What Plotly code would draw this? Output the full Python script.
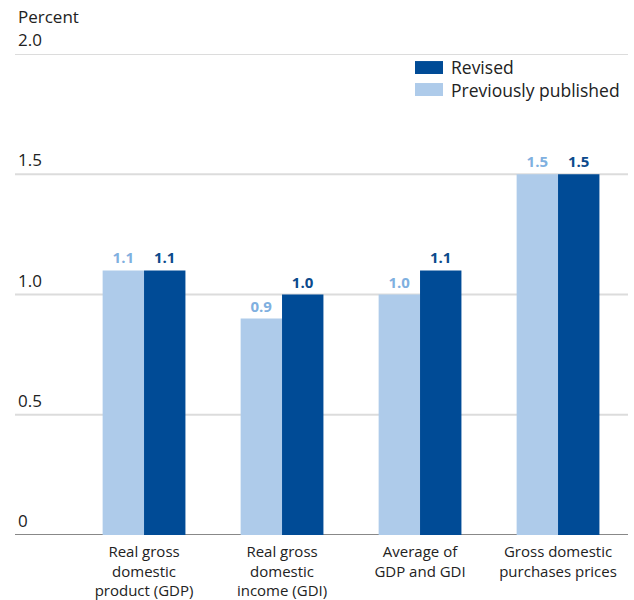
import plotly.graph_objects as go

categories = [
    "Real gross<br>domestic<br>product (GDP)",
    "Real gross<br>domestic<br>income (GDI)",
    "Average of<br>GDP and GDI",
    "Gross domestic<br>purchases prices",
]
previously_published = [1.1, 0.9, 1.0, 1.5]
revised = [1.1, 1.0, 1.1, 1.5]
y_ticks = [0, 0.5, 1.0, 1.5, 2.0]
y_tick_labels = ["0", "0.5", "1.0", "1.5", "2.0"]
legend_labels = ["Revised", "Previously published"]

LIGHT = "#aecbea"
DARK = "#004b96"
LIGHT_TEXT = "#7fb0e0"
DARK_TEXT = "#0b4a8c"
FONT = "Open Sans"

x_idx = list(range(len(categories)))

fig = go.Figure()
fig.add_trace(go.Bar(
    x=x_idx, y=previously_published, name="Previously published",
    marker=dict(color=LIGHT, line=dict(width=0)),
    text=[f"<b>{v:.1f}</b>" for v in previously_published],
    textposition="outside", textfont=dict(color=LIGHT_TEXT, size=15, family=FONT),
    cliponaxis=False,
))
fig.add_trace(go.Bar(
    x=x_idx, y=revised, name="Revised",
    marker=dict(color=DARK, line=dict(width=0)),
    text=[f"<b>{v:.1f}</b>" for v in revised],
    textposition="outside", textfont=dict(color=DARK_TEXT, size=15, family=FONT),
    cliponaxis=False,
))

# horizontal gridlines drawn as shapes so the zero line can be darker
for t, lab in zip(y_ticks, y_tick_labels):
    fig.add_shape(type="line", xref="paper", yref="y", x0=0, x1=1, y0=t, y1=t,
                  line=dict(color="#888888" if t == 0 else "#dcdcdc", width=2),
                  layer="below")
    fig.add_annotation(xref="paper", yref="y", x=0, y=t, xshift=1, yshift=1,
                       text=lab, showarrow=False,
                       xanchor="left", yanchor="bottom",
                       font=dict(size=17, color="#222222", family=FONT))

fig.add_annotation(xref="paper", yref="paper", x=0, y=1, xshift=1, yshift=24,
                   text="Percent", showarrow=False, xanchor="left", yanchor="bottom",
                   font=dict(size=17, color="#222222", family=FONT))

# legend: colour swatches plus one two-line label block
legend_mid = 1.898
legend_step = 0.0457
for i, color in enumerate([DARK, LIGHT]):
    yv = legend_mid + legend_step * (1 - 2 * i)
    fig.add_shape(type="rect", xref="paper", yref="y",
                  x0=(415 - 15) / 613, x1=(443 - 15) / 613,
                  y0=yv - 0.027, y1=yv + 0.027,
                  fillcolor=color, line=dict(width=0))
fig.add_annotation(xref="paper", yref="y", x=(449 - 15) / 613, y=legend_mid,
                   text="<br>".join(legend_labels), showarrow=False,
                   xanchor="left", yanchor="middle", align="left",
                   font=dict(size=17.5, color="#222222", family=FONT))

fig.update_layout(
    width=634, height=600,
    margin=dict(l=15, r=6, t=54, b=65),
    paper_bgcolor="white", plot_bgcolor="white",
    barmode="group", bargap=0.4, bargroupgap=0,
    showlegend=False,
    font=dict(family=FONT, color="#222222"),
    xaxis=dict(
        tickmode="array", tickvals=x_idx, ticktext=categories,
        range=[-0.935, 3.507], showgrid=False, zeroline=False, showline=False,
        ticks="", ticklabelstandoff=6, automargin=False,
        tickfont=dict(size=15, color="#222222", family=FONT),
    ),
    yaxis=dict(range=[0, 2.0], showgrid=False, zeroline=False, showline=False,
               showticklabels=False, ticks="", automargin=False),
)

fig.write_html("out.html")
